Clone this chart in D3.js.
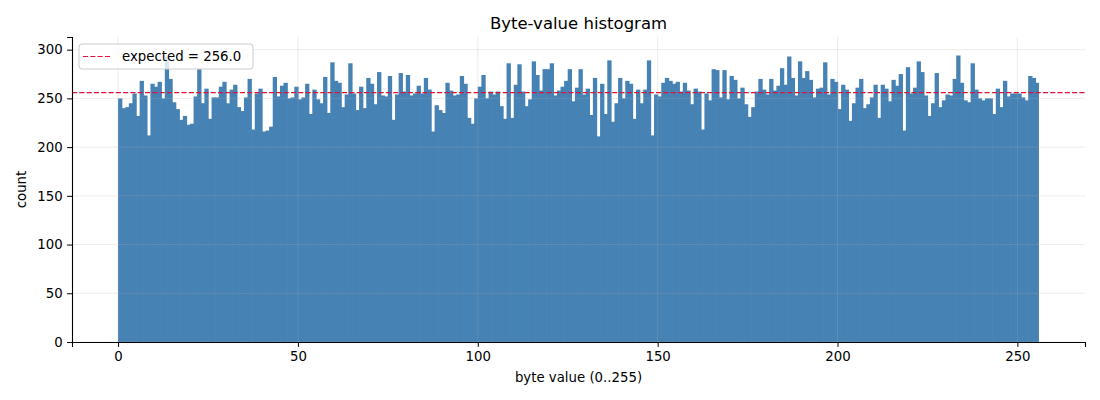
<!DOCTYPE html>
<html>
<head>
<meta charset="utf-8">
<script src="https://cdn.jsdelivr.net/npm/d3@7"></script>
<style>
  html, body { margin: 0; padding: 0; background: #fff; }
  svg { display: block; font-family: "DejaVu Sans", sans-serif; }
</style>
</head>
<body>
<div id="chart"></div>
<script>
// counts per byte value
const counts = [
  250, 240, 241, 245, 255, 232, 268, 253, 212, 265, 262, 267, 250, 292, 270, 246,
  239, 228, 232, 223, 224, 252, 280, 245, 260, 229, 251, 251, 262, 267, 245, 259,
  264, 241, 237, 251, 270, 218, 255, 260, 216, 217, 221, 272, 252, 263, 266, 250,
  251, 262, 249, 251, 265, 234, 259, 249, 245, 272, 235, 287, 268, 266, 241, 254,
  286, 255, 238, 262, 240, 271, 265, 244, 277, 253, 252, 273, 228, 254, 276, 257,
  274, 253, 255, 263, 255, 271, 259, 216, 243, 238, 235, 266, 258, 253, 254, 273,
  265, 230, 224, 250, 262, 274, 250, 257, 254, 257, 242, 229, 286, 230, 264, 285,
  257, 242, 249, 288, 274, 258, 280, 280, 286, 253, 258, 262, 268, 280, 247, 261,
  280, 254, 260, 233, 271, 211, 265, 234, 289, 226, 245, 271, 250, 268, 265, 229,
  259, 245, 259, 289, 212, 254, 252, 266, 271, 268, 265, 267, 257, 266, 258, 244,
  260, 257, 218, 255, 248, 280, 279, 251, 279, 249, 273, 269, 250, 261, 244, 231,
  241, 257, 270, 259, 254, 270, 258, 263, 281, 264, 293, 271, 253, 288, 271, 278,
  269, 251, 260, 261, 287, 254, 270, 267, 239, 264, 259, 227, 245, 261, 270, 240,
  244, 251, 264, 230, 264, 260, 247, 269, 263, 275, 217, 282, 255, 261, 288, 277,
  253, 232, 245, 276, 241, 248, 254, 253, 270, 294, 266, 248, 246, 286, 259, 250,
  248, 250, 250, 234, 260, 241, 268, 252, 255, 255, 255, 251, 248, 273, 271, 266
]
const expected = 256.0
const xTicks = [0, 50, 100, 150, 200, 250]
const yTicks = [0, 50, 100, 150, 200, 250, 300]
const xDomain = [-12.8, 268.8]
const yDomain = [0, 313]

const width = 1100
const height = 400
const margin = { top: 37, right: 15, bottom: 58, left: 72 }
const innerW = width - margin.left - margin.right
const innerH = height - margin.top - margin.bottom

const svg = d3.select('#chart').append('svg')
  .attr('width', width)
  .attr('height', height)

svg.append('text')
  .attr('x', margin.left + innerW / 2)
  .attr('y', 29)
  .attr('text-anchor', 'middle')
  .style('font-size', '16.5px')
  .text('Byte-value histogram')

const g = svg.append('g')
  .attr('transform', `translate(${margin.left}, ${margin.top})`)

const x = d3.scaleLinear().domain(xDomain).range([0, innerW])
const y = d3.scaleLinear().domain(yDomain).range([innerH, 0])

// bars, one bin per byte value [i, i+1); small overlap hides AA seams
g.append('g')
  .selectAll('rect')
  .data(counts)
  .join('rect')
  .attr('x', (d, i) => x(i))
  .attr('width', (d, i) => x(i + 1) - x(i) + (i < counts.length - 1 ? 0.7 : 0))
  .attr('y', d => y(d))
  .attr('height', d => y(0) - y(d))
  .attr('fill', '#4682b4')

// grid on top of bars, like matplotlib's default
const grid = g.append('g')
  .attr('stroke', '#b0b0b0')
  .attr('stroke-opacity', 0.3)
  .attr('stroke-width', 0.8)

grid.selectAll('.gx')
  .data(xTicks)
  .join('line')
  .attr('x1', d => x(d))
  .attr('x2', d => x(d))
  .attr('y1', 0)
  .attr('y2', innerH)

grid.selectAll('.gy')
  .data(yTicks)
  .join('line')
  .attr('x1', 0)
  .attr('x2', innerW)
  .attr('y1', d => y(d))
  .attr('y2', d => y(d))

// expected line
const dash = '5.1,2.2'
g.append('line')
  .attr('x1', 0)
  .attr('x2', innerW)
  .attr('y1', y(expected))
  .attr('y2', y(expected))
  .attr('stroke', '#dc143c')
  .attr('stroke-width', 1.2)
  .attr('stroke-dasharray', dash)

// axes
const xAxis = g.append('g')
  .attr('transform', `translate(0, ${innerH})`)
  .call(d3.axisBottom(x).tickValues(xTicks).tickSize(4.9).tickPadding(4.5).tickFormat(d3.format('d')))

const yAxis = g.append('g')
  .call(d3.axisLeft(y).tickValues(yTicks).tickSize(4.9).tickPadding(4.5).tickFormat(d3.format('d')))

for (const ax of [xAxis, yAxis]) {
  ax.select('.domain').attr('stroke', '#000').attr('stroke-width', 1.1)
  ax.selectAll('.tick line').attr('stroke', '#000').attr('stroke-width', 1)
  ax.selectAll('.tick text')
    .attr('fill', '#000')
    .style('font-size', '13.3px')
    .style('font-family', '"DejaVu Sans", sans-serif')
}

// axis labels
svg.append('text')
  .attr('x', margin.left + innerW / 2)
  .attr('y', 382)
  .attr('text-anchor', 'middle')
  .style('font-size', '13.3px')
  .text('byte value (0..255)')

svg.append('text')
  .attr('transform', `translate(26, ${margin.top + innerH / 2}) rotate(-90)`)
  .attr('text-anchor', 'middle')
  .style('font-size', '13.3px')
  .text('count')

// legend
const legend = g.append('g')
  .attr('transform', 'translate(7, 7)')

legend.append('rect')
  .attr('width', 174)
  .attr('height', 25)
  .attr('rx', 3)
  .attr('fill', '#fff')
  .attr('fill-opacity', 0.8)
  .attr('stroke', '#cccccc')
  .attr('stroke-width', 1)

legend.append('line')
  .attr('x1', 4)
  .attr('x2', 32)
  .attr('y1', 12.5)
  .attr('y2', 12.5)
  .attr('stroke', '#dc143c')
  .attr('stroke-width', 1.2)
  .attr('stroke-dasharray', dash)

legend.append('text')
  .attr('x', 43)
  .attr('y', 17)
  .style('font-size', '13.3px')
  .text(`expected = ${expected.toFixed(1)}`)
</script>
</body>
</html>
